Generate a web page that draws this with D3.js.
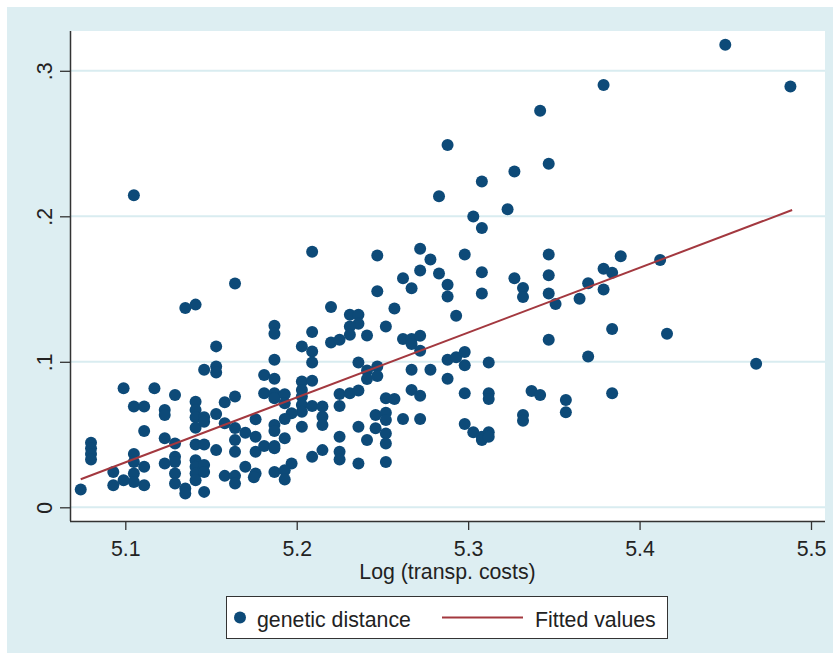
<!DOCTYPE html>
<html>
<head>
<meta charset="utf-8">
<script src="https://cdn.jsdelivr.net/npm/d3@7"></script>
<style>
  html, body { margin: 0; padding: 0; background: #ffffff; }
  svg { display: block; }
  text { font-family: "Liberation Sans", Arial, Helvetica, sans-serif; }
</style>
</head>
<body>
<svg id="chart" width="833" height="653"></svg>
<script>
// ---- data ----
const transportCost = [
  5.074, 5.080, 5.080, 5.080, 5.080, 5.099, 5.117, 5.105, 5.111, 5.123,
  5.123, 5.129, 5.111, 5.141, 5.141, 5.141, 5.141, 5.146, 5.146, 5.153,
  5.158, 5.164, 5.158, 5.164, 5.170, 5.176, 5.176, 5.123, 5.129, 5.141,
  5.146, 5.153, 5.164, 5.164, 5.176, 5.105, 5.105, 5.129, 5.129, 5.123,
  5.141, 5.141, 5.141, 5.141, 5.146, 5.146, 5.111, 5.093, 5.105, 5.105,
  5.099, 5.093, 5.111, 5.129, 5.129, 5.135, 5.135, 5.146, 5.158, 5.164,
  5.164, 5.170, 5.176, 5.135, 5.141, 5.153, 5.146, 5.153, 5.153, 5.164,
  5.105, 5.220, 5.231, 5.236, 5.236, 5.231, 5.231, 5.257, 5.187, 5.187,
  5.209, 5.252, 5.241, 5.220, 5.225, 5.262, 5.267, 5.267, 5.272, 5.203,
  5.209, 5.272, 5.187, 5.209, 5.236, 5.241, 5.241, 5.247, 5.247, 5.267,
  5.278, 5.181, 5.187, 5.203, 5.203, 5.209, 5.181, 5.187, 5.187, 5.193,
  5.193, 5.203, 5.203, 5.203, 5.209, 5.215, 5.215, 5.215, 5.225, 5.225,
  5.231, 5.236, 5.252, 5.257, 5.267, 5.272, 5.197, 5.193, 5.246, 5.252,
  5.252, 5.262, 5.272, 5.187, 5.187, 5.203, 5.236, 5.246, 5.252, 5.252,
  5.225, 5.241, 5.193, 5.181, 5.187, 5.187, 5.215, 5.209, 5.225, 5.225,
  5.236, 5.252, 5.197, 5.187, 5.193, 5.193, 5.175, 5.293, 5.384, 5.347,
  5.288, 5.293, 5.298, 5.298, 5.312, 5.288, 5.370, 5.298, 5.312, 5.312,
  5.337, 5.342, 5.357, 5.357, 5.384, 5.332, 5.332, 5.298, 5.303, 5.308,
  5.308, 5.312, 5.312, 5.379, 5.488, 5.389, 5.379, 5.384, 5.412, 5.379,
  5.416, 5.468, 5.450, 5.342, 5.288, 5.347, 5.327, 5.308, 5.283, 5.323,
  5.303, 5.308, 5.272, 5.247, 5.278, 5.298, 5.347, 5.262, 5.267, 5.272,
  5.283, 5.288, 5.288, 5.308, 5.308, 5.327, 5.332, 5.332, 5.347, 5.347,
  5.351, 5.365, 5.370, 5.247, 5.209
];
const geneticDistance = [
  0.0122, 0.0443, 0.0405, 0.0366, 0.0329, 0.0819, 0.0819, 0.0692, 0.0692, 0.0669,
  0.0634, 0.0772, 0.0524, 0.0726, 0.0669, 0.0619, 0.0547, 0.0619, 0.0588, 0.0641,
  0.0722, 0.0761, 0.0577, 0.0545, 0.0512, 0.0605, 0.0485, 0.0474, 0.0439, 0.0432,
  0.0432, 0.0393, 0.0462, 0.0381, 0.0381, 0.0366, 0.0312, 0.0347, 0.0312, 0.0301,
  0.0324, 0.0278, 0.0232, 0.0186, 0.0290, 0.0243, 0.0278, 0.0243, 0.0232, 0.0174,
  0.0186, 0.0152, 0.0152, 0.0232, 0.0163, 0.0129, 0.0094, 0.0106, 0.0216, 0.0216,
  0.0163, 0.0278, 0.0232, 0.1370, 0.1393, 0.1106, 0.0945, 0.0968, 0.0926, 0.1538,
  0.2145, 0.1377, 0.1324, 0.1324, 0.1262, 0.1243, 0.1186, 0.1366, 0.1248, 0.1193,
  0.1205, 0.1243, 0.1181, 0.1133, 0.1152, 0.1157, 0.1157, 0.1122, 0.1179, 0.1106,
  0.1071, 0.1076, 0.1014, 0.0995, 0.0995, 0.0940, 0.0881, 0.0968, 0.0903, 0.0945,
  0.0945, 0.0910, 0.0883, 0.0864, 0.0807, 0.0869, 0.0784, 0.0784, 0.0750, 0.0777,
  0.0715, 0.0761, 0.0703, 0.0657, 0.0697, 0.0692, 0.0623, 0.0566, 0.0779, 0.0697,
  0.0784, 0.0802, 0.0750, 0.0745, 0.0807, 0.0766, 0.0646, 0.0607, 0.0634, 0.0650,
  0.0600, 0.0607, 0.0607, 0.0566, 0.0524, 0.0554, 0.0554, 0.0543, 0.0508, 0.0439,
  0.0485, 0.0462, 0.0474, 0.0421, 0.0421, 0.0405, 0.0393, 0.0347, 0.0381, 0.0329,
  0.0301, 0.0312, 0.0301, 0.0243, 0.0255, 0.0191, 0.0207, 0.1317, 0.1226, 0.1152,
  0.1014, 0.1032, 0.1067, 0.0977, 0.0995, 0.0883, 0.1037, 0.0784, 0.0784, 0.0745,
  0.0800, 0.0772, 0.0738, 0.0653, 0.0784, 0.0634, 0.0595, 0.0572, 0.0515, 0.0485,
  0.0462, 0.0515, 0.0485, 0.2903, 0.2892, 0.1726, 0.1639, 0.1612, 0.1699, 0.1497,
  0.1193, 0.0986, 0.3179, 0.2726, 0.2490, 0.2361, 0.2308, 0.2239, 0.2138, 0.2048,
  0.1998, 0.1919, 0.1777, 0.1731, 0.1703, 0.1738, 0.1738, 0.1574, 0.1506, 0.1628,
  0.1607, 0.1529, 0.1448, 0.1616, 0.1469, 0.1574, 0.1508, 0.1446, 0.1595, 0.1469,
  0.1398, 0.1434, 0.1540, 0.1485, 0.1757
];
const fittedX = [5.074, 5.489];
const fittedY = [0.0193, 0.2043];
const xTicks = [5.1, 5.2, 5.3, 5.4, 5.5];
const xTickLabels = ["5.1", "5.2", "5.3", "5.4", "5.5"];
const yTicks = [0, 0.1, 0.2, 0.3];
const yTickLabels = ["0", ".1", ".2", ".3"];
const xTitle = "Log (transp. costs)";
const legendLabels = ["genetic distance", "Fitted values"];

// ---- layout ----
const W = 833, H = 653;
const plot = { left: 70, right: 825, top: 31, bottom: 521 };
const markerColor = "#0d4a78";
const lineColor = "#a3383f";
const bgColor = "#ddeef2";
const gridColor = "#d9ecf0";
const axisColor = "#333333";
const textColor = "#222222";
const fs = 21.3;
const mr = 6;

const svg = d3.select("#chart");
svg.append("rect").attr("x", 0).attr("y", 0).attr("width", W).attr("height", H).attr("fill", "#ffffff");
svg.append("rect").attr("x", 7).attr("y", 7).attr("width", W - 7).attr("height", H - 7).attr("fill", bgColor);
svg.append("rect").attr("x", plot.left).attr("y", plot.top)
  .attr("width", plot.right - plot.left).attr("height", plot.bottom - plot.top).attr("fill", "#ffffff");

const x = d3.scaleLinear().domain([5.1, 5.5]).range([125.3, 811]);
const y = d3.scaleLinear().domain([0, 0.3]).range([507.3, 70.8]);

// grid
svg.append("g").selectAll("line").data(yTicks).join("line")
  .attr("x1", plot.left + 1).attr("x2", plot.right)
  .attr("y1", d => y(d)).attr("y2", d => y(d))
  .attr("stroke", gridColor).attr("stroke-width", 2);

// points
const pts = transportCost.map((v, i) => ({ x: v, y: geneticDistance[i] }));
svg.append("g").selectAll("circle").data(pts).join("circle")
  .attr("cx", d => x(d.x)).attr("cy", d => y(d.y)).attr("r", mr)
  .attr("fill", markerColor);

// fitted line
const line = d3.line().x(d => x(d[0])).y(d => y(d[1]));
svg.append("path").datum(fittedX.map((v, i) => [v, fittedY[i]]))
  .attr("d", line).attr("fill", "none").attr("stroke", lineColor).attr("stroke-width", 2);

// axes
const xAxis = d3.axisBottom(x).tickValues(xTicks).tickFormat((d, i) => xTickLabels[i])
  .tickSize(9).tickSizeOuter(0).tickPadding(6);
const gx = svg.append("g").attr("transform", `translate(0,${plot.bottom})`).call(xAxis);
gx.select(".domain").attr("d", `M${plot.left},0.5H${plot.right}`).attr("stroke", axisColor).attr("stroke-width", 1.5);
gx.selectAll(".tick line").attr("stroke", axisColor).attr("stroke-width", 1.3);
gx.selectAll(".tick text").attr("fill", textColor).style("font-size", fs + "px")
  .attr("dy", null).attr("y", 35).style("font-family", '"Liberation Sans", Arial, sans-serif');

const yAxis = d3.axisLeft(y).tickValues(yTicks).tickFormat((d, i) => yTickLabels[i])
  .tickSize(10).tickSizeOuter(0);
const gy = svg.append("g").attr("transform", `translate(${plot.left},0)`).call(yAxis);
gy.select(".domain").attr("d", `M0.5,${plot.top}V${plot.bottom}`).attr("stroke", axisColor).attr("stroke-width", 1.5);
gy.selectAll(".tick line").attr("stroke", axisColor).attr("stroke-width", 1.3);
gy.selectAll(".tick text").attr("fill", textColor).style("font-size", fs + "px")
  .style("font-family", '"Liberation Sans", Arial, sans-serif')
  .attr("transform", "rotate(-90)").attr("x", 0).attr("y", -18).attr("dy", null)
  .attr("text-anchor", "middle");

// x title
svg.append("text").attr("x", (plot.left + plot.right) / 2).attr("y", 579)
  .attr("text-anchor", "middle").attr("fill", textColor).style("font-size", fs + "px")
  .text(xTitle);

// legend
const lg = svg.append("g");
lg.append("rect").attr("x", 226.5).attr("y", 596.5).attr("width", 441).attr("height", 42)
  .attr("fill", "#ffffff").attr("stroke", axisColor).attr("stroke-width", 1);
lg.append("circle").attr("cx", 240).attr("cy", 617.5).attr("r", mr).attr("fill", markerColor);
lg.append("text").attr("x", 257).attr("y", 626.5).attr("fill", textColor)
  .style("font-size", fs + "px").text(legendLabels[0]);
lg.append("line").attr("x1", 442).attr("x2", 523).attr("y1", 617.5).attr("y2", 617.5)
  .attr("stroke", lineColor).attr("stroke-width", 2);
lg.append("text").attr("x", 535).attr("y", 626.5).attr("fill", textColor)
  .style("font-size", fs + "px").text(legendLabels[1]);
</script>
</body>
</html>
